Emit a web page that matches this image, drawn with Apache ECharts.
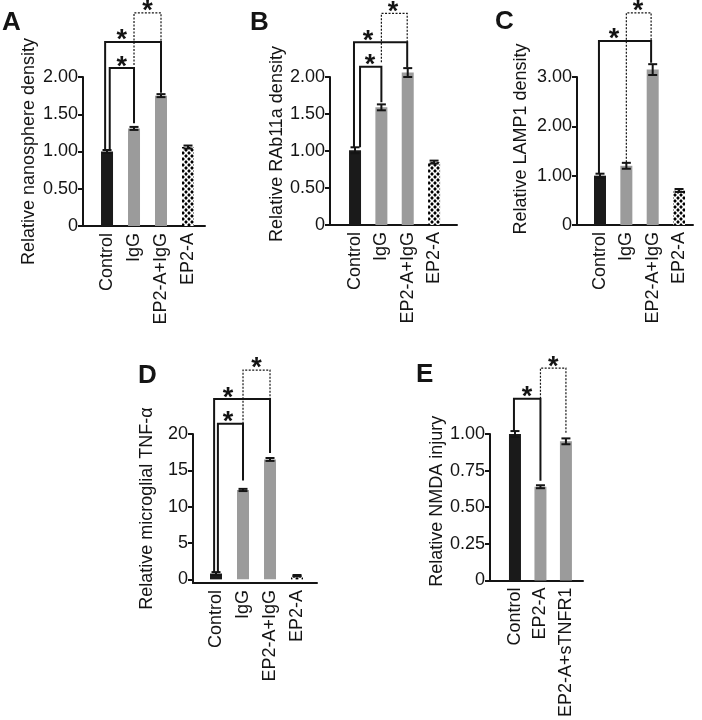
<!DOCTYPE html>
<html><head><meta charset="utf-8">
<script src="https://cdn.jsdelivr.net/npm/echarts@6/dist/echarts.min.js"></script>
<style>html,body{margin:0;padding:0;background:#fff}#c{width:702px;height:720px}</style>
</head><body><div id="c"></div>
<script>
// ---------- data ----------
const catsABCD = ['Control', 'IgG', 'EP2-A+IgG', 'EP2-A'];
const catsE = ['Control', 'EP2-A', 'EP2-A+sTNFR1'];
const fillABCD = ['black', 'gray', 'gray', 'pattern'];
const fillE = ['black', 'gray', 'gray'];

const valA = [1.00, 1.31, 1.75, 1.06];
const errA = [0.02, 0.02, 0.02, 0.02];
const valB = [1.01, 1.59, 2.06, 0.85];
const errB = [0.04, 0.04, 0.06, 0.02];
const valC = [1.00, 1.20, 3.15, 0.70];
const errC = [0.04, 0.06, 0.11, 0.03];
const valD = [0.8, 12.3, 16.5, 0.5];
const errD = [0.2, 0.15, 0.2, 0.1];
const valE = [1.00, 0.64, 0.95];
const errE = [0.02, 0.01, 0.02];

// significance brackets: [fromX, toX, level, leftLegBottom, rightLegBottom, dotted, starX]
const sigA = [[1.10, 2, 2.12, 1.02, 1.38, 0, 1.55], [0.93, 3, 2.47, 1.02, 1.79, 0, 1.55], [2, 3, 2.86, 2.16, 2.47, 1, 2.5]];
const sigB = [[1.19, 2, 2.14, 1.05, 1.66, 0, 1.57], [0.96, 2.98, 2.47, 1.05, 2.13, 0, 1.49], [2, 2.98, 2.86, 2.20, 2.47, 1, 2.44]];
const sigC = [[0.96, 2.94, 3.73, 1.04, 3.29, 0, 1.53], [2, 2.94, 4.30, 1.27, 3.73, 1, 2.44]];
const sigD = [[1.07, 2, 21.4, 1.0, 13.6, 0, 1.44], [0.93, 3, 24.8, 1.0, 17.4, 0, 1.44], [2, 3, 28.8, 21.4, 24.8, 1, 2.5]];
const sigE = [[0.96, 2, 1.24, 1.02, 0.68, 0, 1.47], [2, 3, 1.45, 1.24, 1.0, 1, 2.5]];

const yTicksD = [0, 5, 10, 15, 20];

// ---------- styling ----------
const FONT = '"Liberation Sans", Arial, sans-serif';
const INK = '#141414';
const GRAY = '#9b9b9b';

function makePattern() {
  const c = document.createElement('canvas');
  c.width = 6; c.height = 6;
  const g = c.getContext('2d');
  g.fillStyle = '#fff'; g.fillRect(0, 0, 6, 6);
  g.fillStyle = '#000';
  const dia = (cx, cy, r) => { g.beginPath(); g.moveTo(cx, cy - r); g.lineTo(cx + r, cy); g.lineTo(cx, cy + r); g.lineTo(cx - r, cy); g.closePath(); g.fill(); };
  dia(3, 3, 1.9); dia(0, 0, 1.9); dia(6, 0, 1.9); dia(0, 6, 1.9); dia(6, 6, 1.9);
  return c;
}
const patternFill = { image: makePattern(), repeat: 'repeat' };
function fillColor(k) { return k === 'black' ? '#1a1a1a' : k === 'gray' ? GRAY : patternFill; }

// panel geometry (grid boxes + x-range in category units)
const panels = [
  { cats: catsABCD, fills: fillABCD, vals: valA, errs: errA, sig: sigA, name: 'Relative nanosphere density',
    grid: { left: 83, top: 77, width: 122, height: 149 }, xr: [0.11, 4.63], y: { min: 0, max: 2, interval: 0.5 }, fmt: v => v === 0 ? '0' : v.toFixed(2), gap: 45, shift: 0 },
  { cats: catsABCD, fills: fillABCD, vals: valB, errs: errB, sig: sigB, name: 'Relative RAb11a density',
    grid: { left: 330, top: 77, width: 127, height: 148 }, xr: [0.05, 4.87], y: { min: 0, max: 2, interval: 0.5 }, fmt: v => v === 0 ? '0' : v.toFixed(2), gap: 43, shift: 14 },
  { cats: catsABCD, fills: fillABCD, vals: valC, errs: errC, sig: sigC, name: 'Relative LAMP1 density',
    grid: { left: 577, top: 77, width: 116, height: 148 }, xr: [0.127, 4.53], y: { min: 0, max: 3, interval: 1 }, fmt: v => v === 0 ? '0' : v.toFixed(2), gap: 47, shift: 24 },
  { cats: catsABCD, fills: fillABCD, vals: valD, errs: errD, sig: sigD, name: 'Relative microglial TNF-\u03b1',
    grid: { left: 193, top: 434, width: 124, height: 149 }, xr: [0.148, 4.74], y: { min: -0.5, max: 20, custom: yTicksD }, fmt: v => String(v), gap: 37, shift: 0 },
  { cats: catsE, fills: fillE, vals: valE, errs: errE, sig: sigE, name: 'Relative NMDA injury',
    grid: { left: 490, top: 434, width: 93, height: 147 }, xr: [0.02, 3.67], y: { min: 0, max: 1, interval: 0.25 }, fmt: v => v === 0 ? '0' : v.toFixed(2), gap: 40, shift: 12 }
];

function errRender(params, api) {
  const x = api.value(0), v = api.value(1), e = api.value(2);
  const t = api.coord([x, v + e]), b = api.coord([x, v - e]);
  const hw = 4.5, st = { stroke: INK, lineWidth: 2 };
  return { type: 'group', children: [
    { type: 'line', shape: { x1: t[0], y1: t[1], x2: b[0], y2: b[1] }, style: st },
    { type: 'line', shape: { x1: t[0] - hw, y1: t[1], x2: t[0] + hw, y2: t[1] }, style: st },
    { type: 'line', shape: { x1: b[0] - hw, y1: b[1], x2: b[0] + hw, y2: b[1] }, style: st }
  ] };
}
function sigRender(params, api) {
  const x1 = api.value(0), x2 = api.value(1), lv = api.value(2), lb = api.value(3), rb = api.value(4), d = api.value(5), sx = api.value(6);
  const pts = [api.coord([x1, lb]), api.coord([x1, lv]), api.coord([x2, lv]), api.coord([x2, rb])];
  const s = api.coord([sx, lv]);
  return { type: 'group', children: [
    { type: 'polyline', shape: { points: pts }, style: { stroke: INK, lineWidth: d ? 1.2 : 2, lineDash: d ? [2, 1.5] : null, fill: null } },
    { type: 'text', style: { text: '*', x: s[0], y: s[1] - 1, align: 'center', verticalAlign: 'middle', font: 'bold 27px ' + FONT, fill: INK } }
  ] };
}

const grid = [], xAxis = [], yAxis = [], series = [];
panels.forEach((p, i) => {
  grid.push(p.grid);
  const idx = p.cats.map((c, k) => k + 1);
  xAxis.push({
    gridIndex: i, type: 'value', min: p.xr[0], max: p.xr[1],
    axisLine: { show: true, onZero: false, lineStyle: { color: INK, width: 2 } },
    axisTick: { show: false }, splitLine: { show: false },
    axisLabel: { customValues: idx, rotate: 90, margin: 7, fontSize: 18, fontFamily: FONT, color: INK,
      formatter: v => p.cats[Math.round(v) - 1] || '' }
  });
  const ya = {
    gridIndex: i, type: 'value', min: p.y.min, max: p.y.max,
    name: p.name, nameLocation: 'middle', nameGap: p.gap,
    nameTextStyle: { fontSize: 18, fontFamily: FONT, color: INK, padding: [0, 0, 0, p.shift] },
    axisLine: { show: true, onZero: false, lineStyle: { color: INK, width: 2 } },
    axisTick: { show: true, length: 5, inside: false, lineStyle: { color: INK, width: 2 } },
    splitLine: { show: false },
    axisLabel: { margin: 5, fontSize: 18, fontFamily: FONT, color: INK, formatter: p.fmt }
  };
  if (p.y.custom) { ya.axisLabel.customValues = p.y.custom; ya.axisTick.customValues = p.y.custom; }
  else ya.interval = p.y.interval;
  yAxis.push(ya);
  series.push({
    type: 'bar', xAxisIndex: i, yAxisIndex: i, barWidth: 12, clip: false, z: 2,
    data: p.vals.map((v, k) => ({ value: [k + 1, v], itemStyle: { color: fillColor(p.fills[k]) } }))
  });
  series.push({
    type: 'custom', xAxisIndex: i, yAxisIndex: i, z: 3, clip: false, renderItem: errRender,
    data: p.vals.map((v, k) => [k + 1, v, p.errs[k]])
  });
  series.push({
    type: 'custom', xAxisIndex: i, yAxisIndex: i, z: 4, clip: false, renderItem: sigRender,
    data: p.sig
  });
});

const letters = [['A', 2, 23], ['B', 250, 23], ['C', 495, 22], ['D', 138, 376], ['E', 416, 375]];
const chart = echarts.init(document.getElementById('c'), null, { renderer: 'canvas' });
chart.setOption({
  animation: false,
  backgroundColor: '#fff',
  grid, xAxis, yAxis, series,
  graphic: letters.map(l => ({ type: 'text', style: { text: l[0], x: l[1], y: l[2], verticalAlign: 'middle', align: 'left', font: 'bold 26px ' + FONT, fill: INK } }))
});
</script></body></html>
